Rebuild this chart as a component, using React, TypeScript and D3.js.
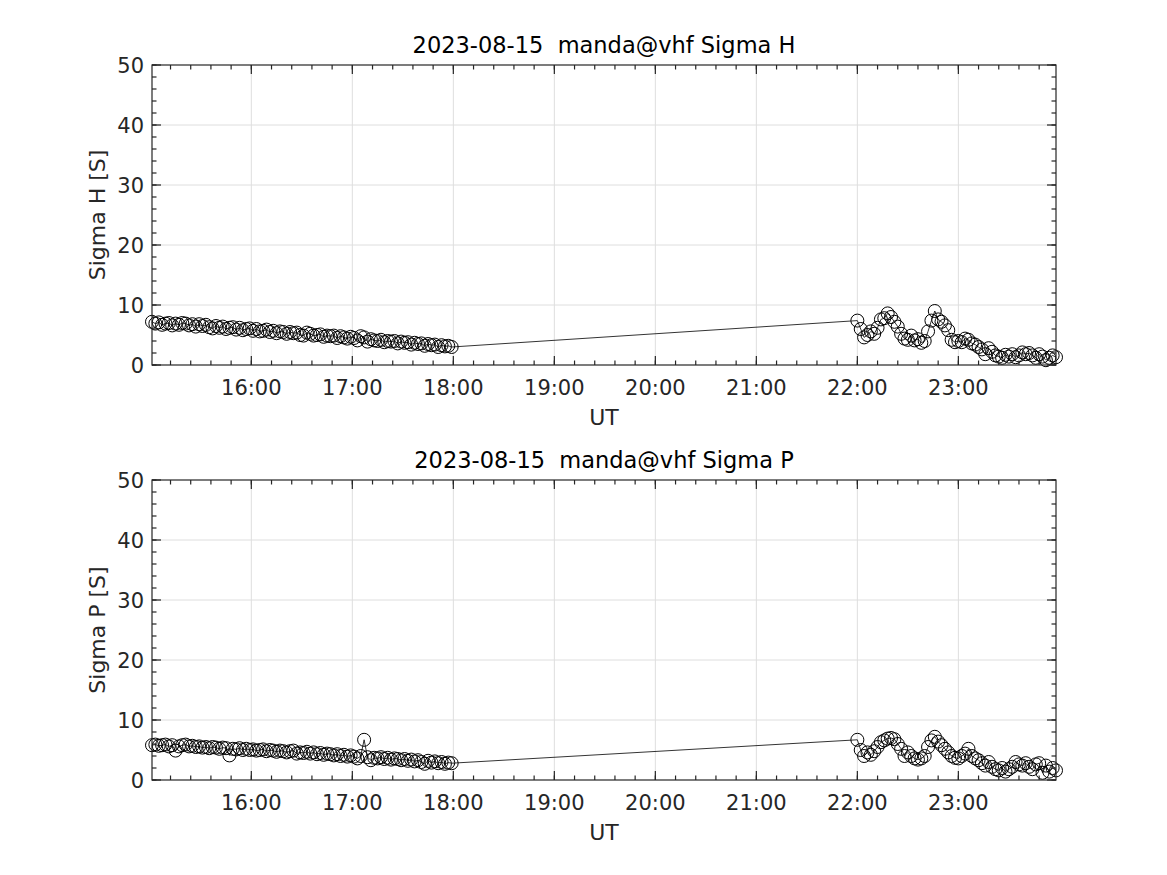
import React, { useEffect, useRef } from 'react';
import * as d3 from 'd3';

// sampling: one point every 2 minutes, two blocks of data with a gap between them
const DAY = '2023-08-15';
const BLOCK1_START = '15:01';
const BLOCK2_START = '22:00';
const STEP_MIN = 2;

const sigmaH1 = [
  7.2, 6.9, 7.1, 6.7, 6.9, 7.0, 6.6, 6.9, 6.7, 7.0, 6.9, 6.6, 6.8, 6.4, 6.8, 6.5, 6.7, 6.3, 6.1, 6.5,
  6.2, 6.4, 6.0, 6.2, 6.3, 5.9, 6.2, 5.8, 6.0, 6.1,
  5.7, 6.0, 5.6, 5.7, 5.9, 5.5, 5.7, 5.3, 5.6, 5.5, 5.2, 5.5, 5.3, 5.4, 5.0, 4.9, 5.4, 5.2, 4.9, 5.0,
  5.1, 4.7, 4.9, 4.8, 4.9, 4.5, 4.8, 4.6, 4.4, 4.7,
  4.5, 4.1, 4.8, 4.6, 3.9, 4.3, 4.1, 4.0, 4.2, 3.8, 4.0, 3.9, 4.0, 3.6, 3.9, 3.7, 3.8, 3.4, 3.7, 3.5,
  3.6, 3.2, 3.5, 3.3, 3.4, 3.0, 3.3, 3.1, 3.2, 3.0,
];
const sigmaH2 = [
  7.4, 6.0, 4.6, 5.0, 5.6, 5.2, 6.2, 7.6, 7.8, 8.6, 8.0, 7.2, 6.4, 5.2, 4.4, 4.2, 4.9, 4.1, 4.3, 3.7,
  4.0, 5.6, 7.4, 9.0, 7.6, 7.2, 6.6, 5.8, 4.2, 3.8, 4.0, 3.8, 4.4, 4.2, 3.6, 3.4, 3.0, 2.6, 1.8, 2.8,
  2.2, 1.6, 1.4, 1.2, 1.7, 1.4, 1.8, 1.3, 1.6, 2.1, 1.8, 2.0, 1.6, 1.2, 1.8, 1.4, 0.8, 1.2, 1.6, 1.3,
];
const sigmaP1 = [
  5.8, 5.9, 5.7, 5.8, 5.9, 5.6, 5.8, 4.9, 5.6, 5.8, 5.9, 5.6, 5.7, 5.5, 5.6, 5.4, 5.5, 5.3, 5.5, 5.4,
  5.2, 5.4, 5.3, 4.1, 5.2, 5.1, 5.3, 5.0, 5.2, 5.0,
  5.1, 4.9, 5.0, 5.1, 4.8, 5.0, 4.9, 4.7, 4.9, 4.8, 4.6, 4.8, 4.9, 4.4, 4.6, 4.5, 4.7, 4.4, 4.6, 4.3,
  4.5, 4.2, 4.4, 4.3, 4.1, 4.3, 4.0, 4.2, 3.9, 4.1,
  3.9, 3.6, 4.0, 6.7, 3.8, 3.3, 3.7, 3.6, 3.8, 3.5, 3.7, 3.4, 3.6, 3.5, 3.3, 3.5, 3.2, 3.4, 3.1, 3.3,
  3.0, 2.7, 3.2, 2.9, 3.1, 2.8, 3.0, 2.7, 2.9, 2.8,
];
const sigmaP2 = [
  6.7, 5.0, 4.0, 4.6, 4.2, 4.8, 5.5, 6.3, 6.6, 6.9, 7.0, 6.8, 6.0, 5.2, 4.0, 4.6, 4.0, 3.6, 3.4, 3.6,
  4.0, 5.5, 6.6, 7.2, 6.4, 5.8, 5.2, 4.6, 4.0, 3.7, 3.6, 4.0, 4.4, 5.2, 4.0, 3.6, 3.3, 2.8, 2.4, 3.0,
  2.2, 1.8, 1.6, 2.0, 1.4, 1.8, 2.2, 3.0, 2.6, 2.4, 2.8, 2.2, 1.8, 2.6, 2.8, 1.2, 2.4, 1.4, 2.0, 1.6,
];

const yTicks = [0, 10, 20, 30, 40, 50];
const yMinorStep = 2;
const xMinorMinutes = 12;

const FONT = "'DejaVu Sans', sans-serif";
const INK = '#262626';

const toTimes = (start: string, n: number) => {
  const t0 = new Date(`${DAY}T${start}:00Z`);
  return d3.range(n).map(i => d3.utcMinute.offset(t0, i * STEP_MIN));
};

type PanelProps = { top: number; title: string; ylabel: string; a: number[]; b: number[] };

const Panel = ({ top, title, ylabel, a, b }: PanelProps) => {
  const ref = useRef<SVGGElement>(null);

  useEffect(() => {
    const g = d3.select(ref.current);
    g.selectAll('*').remove();

    const left = 152, right = 1056, h = 300;
    const w = right - left;
    const pts = [
      ...toTimes(BLOCK1_START, a.length).map((t, i) => ({ t, v: a[i] })),
      ...toTimes(BLOCK2_START, b.length).map((t, i) => ({ t, v: b[i] })),
    ];

    const x = d3.scaleUtc().domain(d3.extent(pts, d => d.t) as [Date, Date]).range([0, w]);
    const y = d3.scaleLinear().domain([0, 50]).range([h, 0]);

    const p = g.append('g').attr('transform', `translate(${left},${top})`);

    const majorX = d3.utcHour.range(x.domain()[0], x.domain()[1]).filter(d => x(d) > 0.5);
    const minorX = d3.utcMinute.every(xMinorMinutes)!.range(x.domain()[0], x.domain()[1]);
    const minorY = d3.range(0, 50 + 0.001, yMinorStep);

    // grid
    p.append('g').selectAll('line').data(majorX).join('line')
      .attr('x1', d => x(d)).attr('x2', d => x(d)).attr('y1', 0).attr('y2', h)
      .attr('stroke', '#dedede').attr('stroke-width', 1);
    p.append('g').selectAll('line').data(yTicks.slice(1, -1)).join('line')
      .attr('x1', 0).attr('x2', w).attr('y1', d => y(d)).attr('y2', d => y(d))
      .attr('stroke', '#dedede').attr('stroke-width', 1);

    // data line + circle markers
    const line = d3.line<{ t: Date; v: number }>().x(d => x(d.t)).y(d => y(d.v));
    p.append('path').datum(pts).attr('d', line)
      .attr('fill', 'none').attr('stroke', '#000').attr('stroke-width', 0.8);
    p.append('g').selectAll('circle').data(pts).join('circle')
      .attr('cx', d => x(d.t)).attr('cy', d => y(d.v)).attr('r', 6.5)
      .attr('fill', 'none').attr('stroke', '#000').attr('stroke-width', 1);

    // box
    p.append('rect').attr('width', w).attr('height', h)
      .attr('fill', 'none').attr('stroke', INK).attr('stroke-width', 1.2);

    // inward ticks on all four sides
    const ticks = p.append('g').attr('stroke', INK).attr('stroke-width', 1.2);
    minorX.forEach(d => {
      const xx = x(d);
      ticks.append('line').attr('x1', xx).attr('x2', xx).attr('y1', h).attr('y2', h - 4.5);
      ticks.append('line').attr('x1', xx).attr('x2', xx).attr('y1', 0).attr('y2', 4.5);
    });
    majorX.forEach(d => {
      const xx = x(d);
      ticks.append('line').attr('x1', xx).attr('x2', xx).attr('y1', h).attr('y2', h - 9);
      ticks.append('line').attr('x1', xx).attr('x2', xx).attr('y1', 0).attr('y2', 9);
    });
    minorY.forEach(d => {
      const yy = y(d);
      ticks.append('line').attr('x1', 0).attr('x2', 4.5).attr('y1', yy).attr('y2', yy);
      ticks.append('line').attr('x1', w).attr('x2', w - 4.5).attr('y1', yy).attr('y2', yy);
    });
    yTicks.forEach(d => {
      const yy = y(d);
      ticks.append('line').attr('x1', 0).attr('x2', 9).attr('y1', yy).attr('y2', yy);
      ticks.append('line').attr('x1', w).attr('x2', w - 9).attr('y1', yy).attr('y2', yy);
    });

    // tick labels
    const fmt = d3.utcFormat('%H:%M');
    p.append('g').selectAll('text').data(majorX).join('text')
      .attr('x', d => x(d)).attr('y', h + 30).attr('text-anchor', 'middle')
      .attr('fill', INK).style('font', `21px ${FONT}`).text(d => fmt(d));
    p.append('g').selectAll('text').data(yTicks).join('text')
      .attr('x', -8).attr('y', d => y(d)).attr('dy', '0.36em').attr('text-anchor', 'end')
      .attr('fill', INK).style('font', `21px ${FONT}`).text(d => d);

    // labels and title
    p.append('text').attr('x', w / 2).attr('y', h + 60).attr('text-anchor', 'middle')
      .attr('fill', INK).style('font', `22px ${FONT}`).text('UT');
    p.append('text').attr('transform', `translate(${105 - left},${h / 2}) rotate(-90)`)
      .attr('text-anchor', 'middle').attr('fill', INK).style('font', `22px ${FONT}`).text(ylabel);
    p.append('text').attr('x', w / 2).attr('y', -12).attr('text-anchor', 'middle')
      .attr('fill', '#000').style('font', `22.5px ${FONT}`).style('white-space', 'pre').text(title);
  }, [top, title, ylabel, a, b]);

  return <g ref={ref} />;
};

export default function App() {
  return (
    <svg width={1167} height={875} style={{ position: 'absolute', left: 0, top: 0, background: '#fff' }}>
      <rect width={1167} height={875} fill="#fff" />
      <Panel top={65} title={`${DAY}  manda@vhf Sigma H`} ylabel="Sigma H [S]" a={sigmaH1} b={sigmaH2} />
      <Panel top={480} title={`${DAY}  manda@vhf Sigma P`} ylabel="Sigma P [S]" a={sigmaP1} b={sigmaP2} />
    </svg>
  );
}
